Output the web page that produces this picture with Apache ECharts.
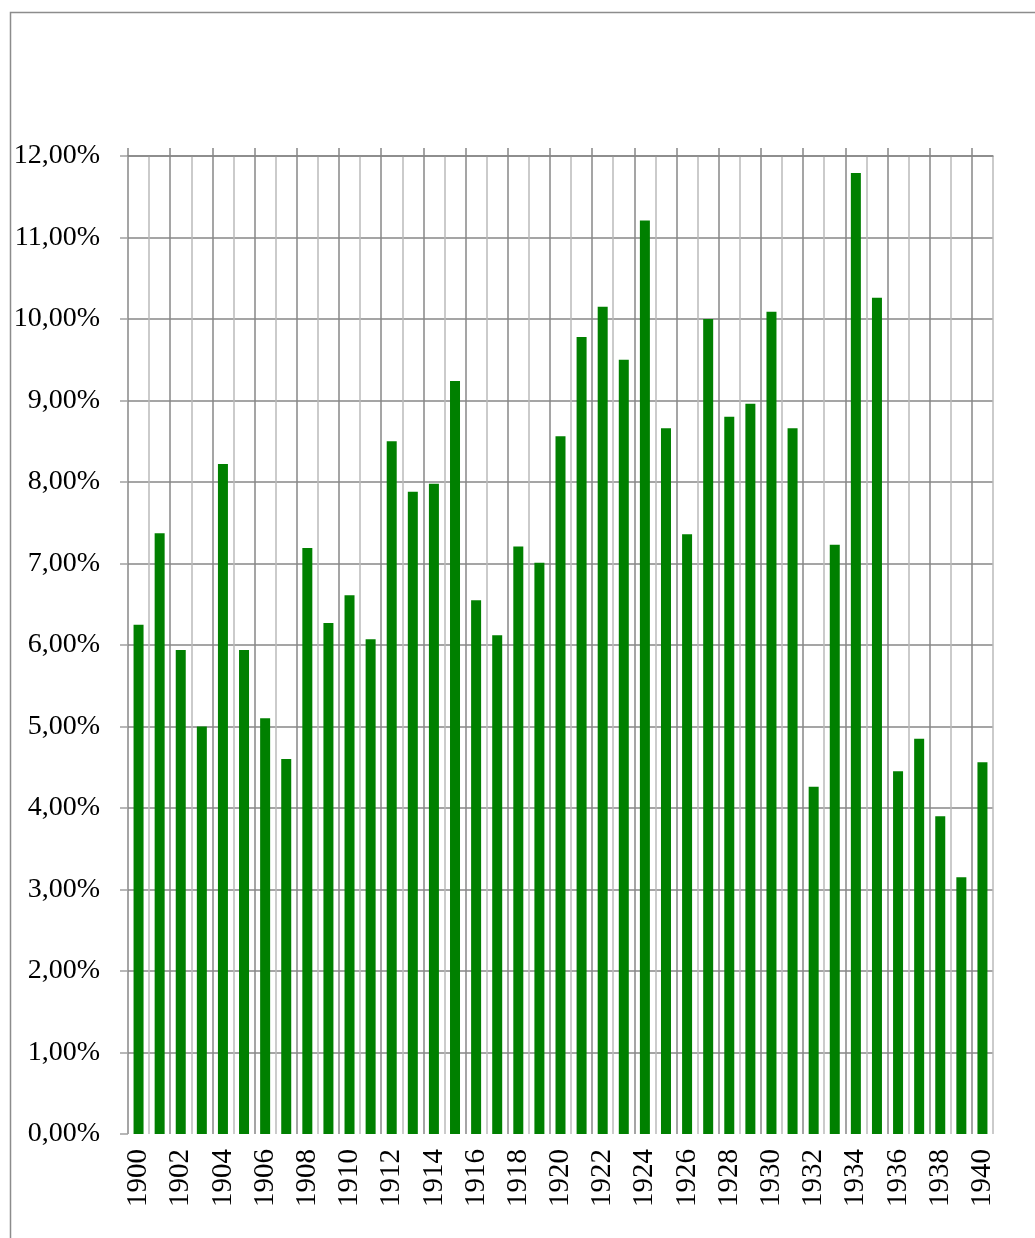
<!DOCTYPE html>
<html>
<head>
<meta charset="utf-8">
<script src="https://cdn.jsdelivr.net/npm/echarts@6/dist/echarts.min.js"></script>
<style>
html,body{margin:0;padding:0;background:#fff;}
#chart{width:1035px;height:1238px;}
</style>
</head>
<body>
<div id="chart"></div>
<script>
var years = ['1900','1901','1902','1903','1904','1905','1906','1907','1908','1909',
  '1910','1911','1912','1913','1914','1915','1916','1917','1918','1919',
  '1920','1921','1922','1923','1924','1925','1926','1927','1928','1929',
  '1930','1931','1932','1933','1934','1935','1936','1937','1938','1939','1940'];
var values = [6.25, 7.37, 5.94, 5.00, 8.22, 5.94, 5.10, 4.60, 7.19, 6.27,
  6.61, 6.07, 8.50, 7.88, 7.98, 9.24, 6.55, 6.12, 7.21, 7.01,
  8.56, 9.78, 10.15, 9.50, 11.21, 8.66, 7.36, 10.00, 8.80, 8.96,
  10.09, 8.66, 4.26, 7.23, 11.79, 10.26, 4.45, 4.85, 3.90, 3.15, 4.56];
var yMin = 0, yMax = 12, yStep = 1;

// boundaries between categories (for the tick marks above the plot)
var boundaries = years.concat(['']);

var chart = echarts.init(document.getElementById('chart'));
var FONT = '"Liberation Serif", "Times New Roman", serif';
var DARK = '#878787', LIGHT = '#bababa';
chart.setOption({
  animation: false,
  backgroundColor: '#fff',
  graphic: [{
    type: 'rect', left: 8, top: 10, silent: true,
    shape: {width: 1200, height: 1400},
    style: {fill: 'none', stroke: '#8c8c8c', lineWidth: 1.5}
  }],
  grid: {left: 128, right: 42, top: 156, bottom: 104, containLabel: false},
  xAxis: [{
    type: 'category', data: years, position: 'bottom',
    axisLine: {show: false},
    axisTick: {show: false, interval: 0},
    axisLabel: {interval: 1, rotate: 90, margin: 15, fontFamily: FONT, fontSize: 29, color: '#000'},
    splitLine: {show: true, interval: 0, lineStyle: {color: [DARK, LIGHT], width: 1.5}}
  }, {
    type: 'category', data: boundaries, position: 'top', boundaryGap: false,
    axisLine: {show: true, lineStyle: {color: DARK, width: 1.5}},
    axisTick: {show: true, length: 8, lineStyle: {color: DARK, width: 1.5},
      interval: function (i) { return i % 2 === 0; }},
    axisLabel: {show: false},
    splitLine: {show: false}
  }],
  yAxis: {
    type: 'value', min: yMin, max: yMax, interval: yStep,
    axisLine: {show: false},
    axisTick: {show: true, length: 8, lineStyle: {color: '#a0a0a0', width: 1.5}},
    axisLabel: {margin: 28, fontFamily: FONT, fontSize: 28, color: '#000',
      formatter: function (v) { return v.toFixed(2).replace('.', ',') + '%'; }},
    splitLine: {show: true, showMinLine: false, lineStyle: {color: DARK, width: 1.5}}
  },
  series: [{
    type: 'bar', data: values, xAxisIndex: 0, barWidth: 10,
    itemStyle: {color: '#008000'}
  }]
});
</script>
</body>
</html>
